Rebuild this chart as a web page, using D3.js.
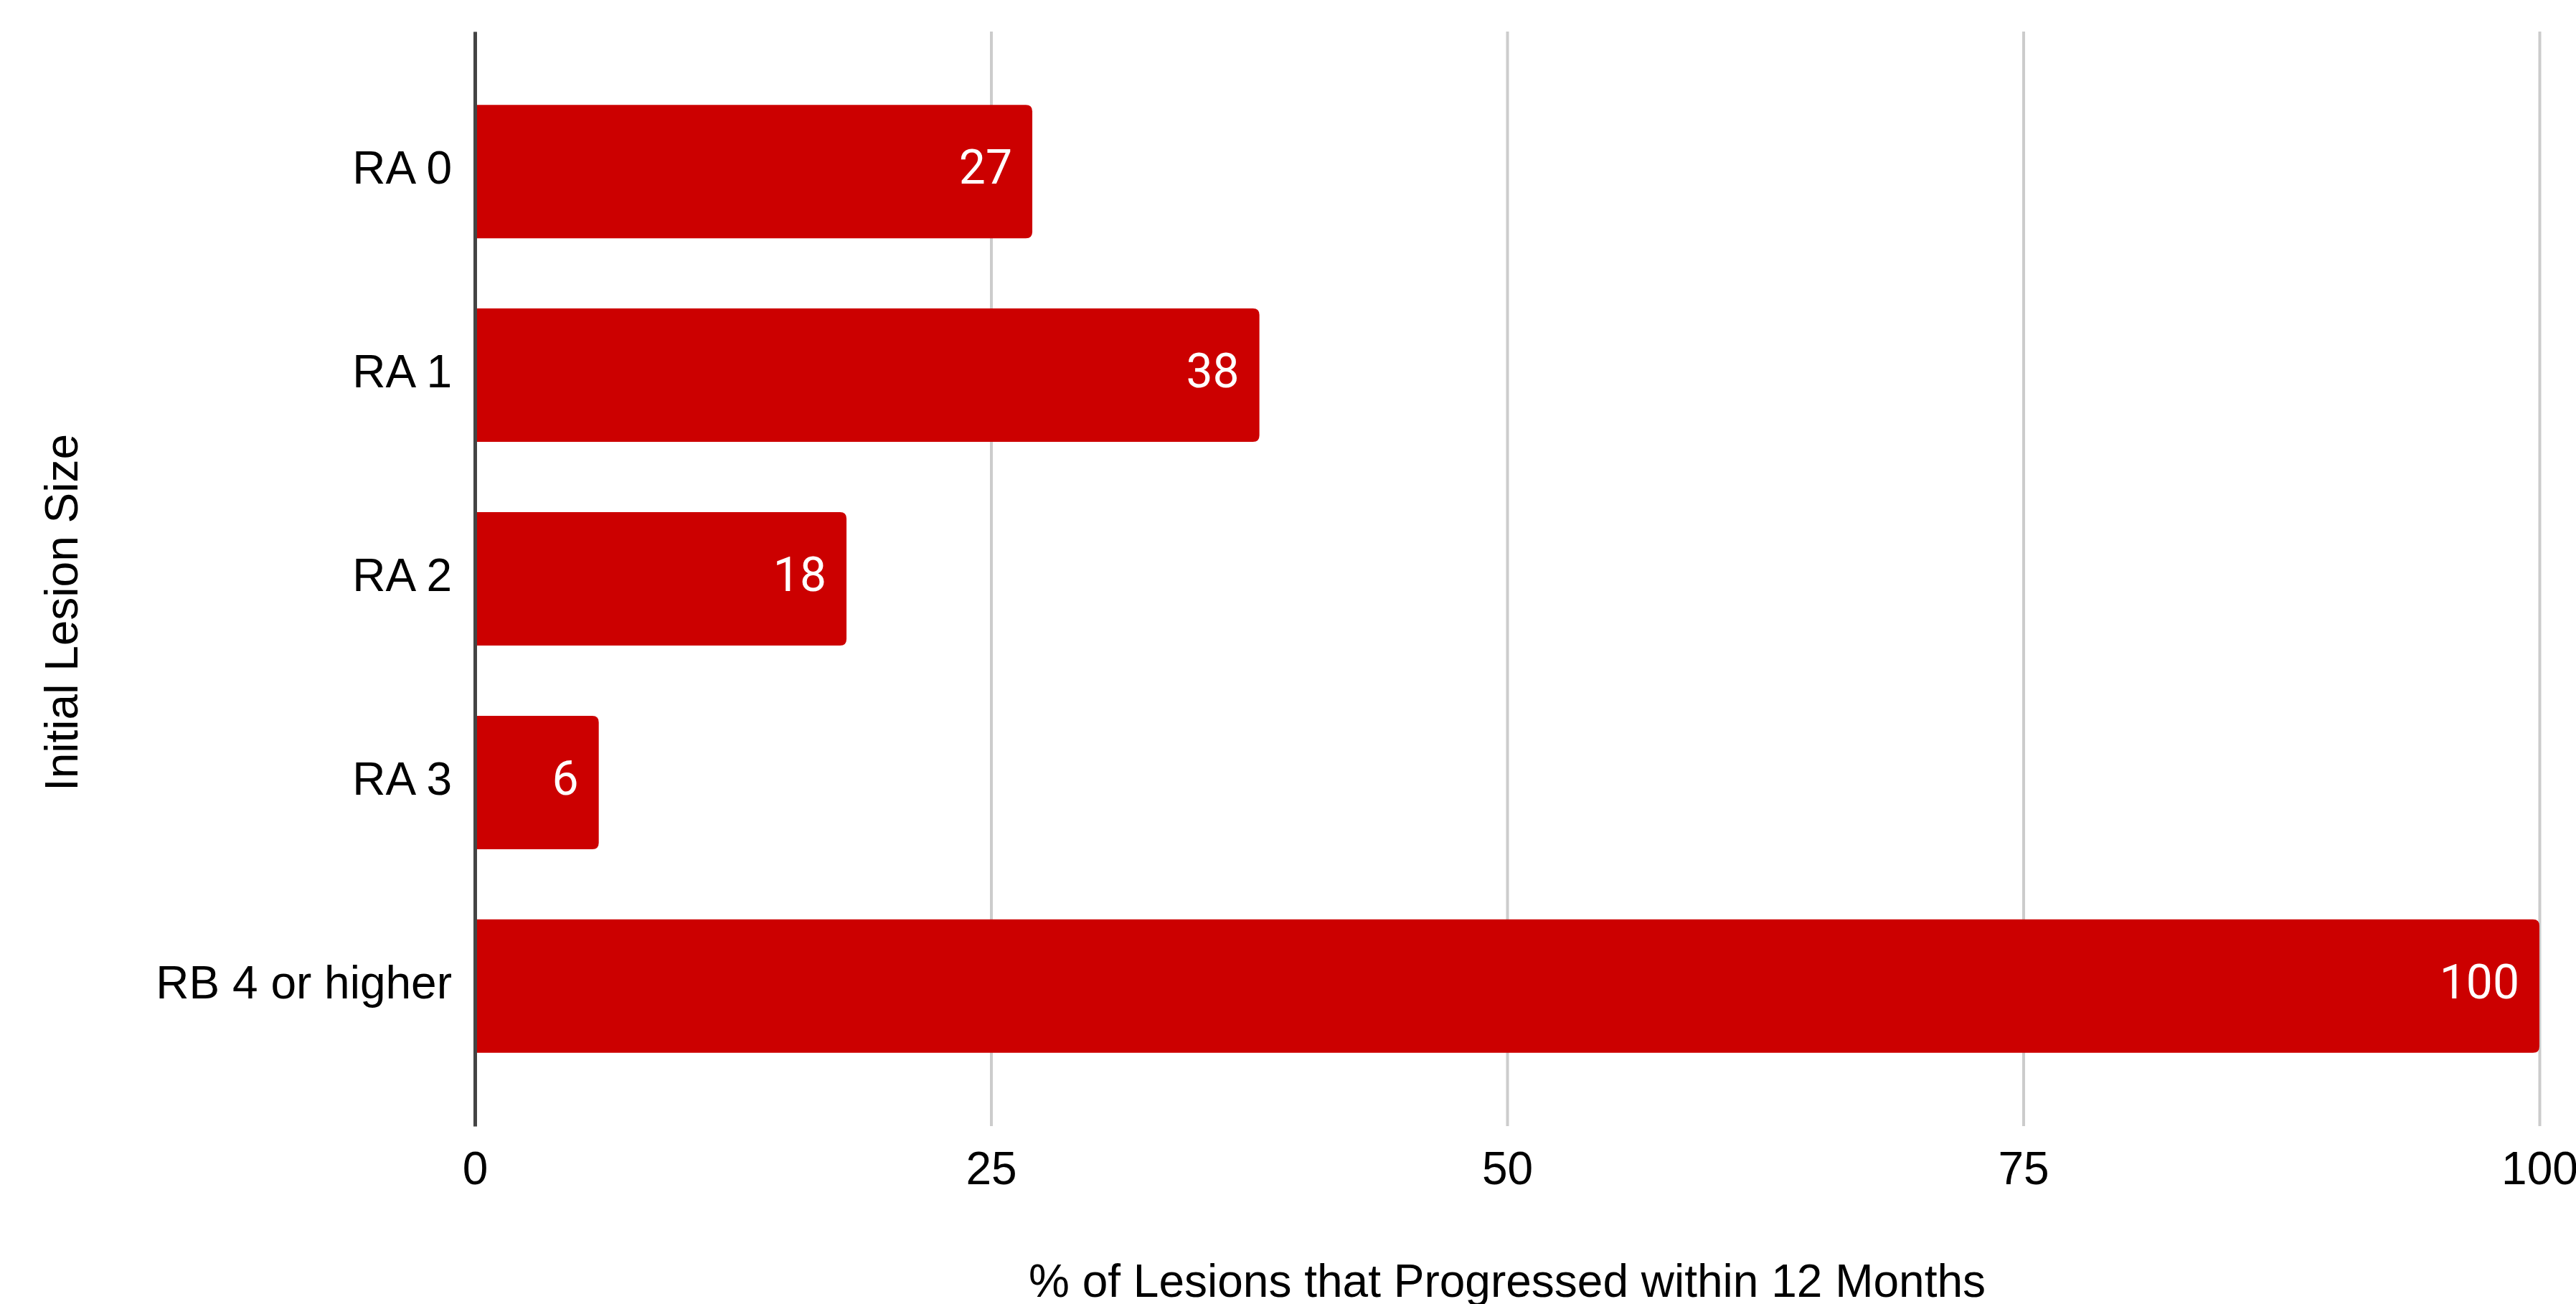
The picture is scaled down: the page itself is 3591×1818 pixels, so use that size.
<!DOCTYPE html>
<html lang="en">
<head>
<meta charset="utf-8">
<title>Lesion progression</title>
<script src="https://d3js.org/d3.v7.min.js"></script>
<style>
  body { margin: 0; background: #fff; }
  .axis text { font-family: "Liberation Sans", Arial, sans-serif; font-size: 64px; fill: #000; }
</style>
</head>
<body>
<script>
// data
var categories = ["RA 0", "RA 1", "RA 2", "RA 3", "RB 4 or higher"];
var progressed = [27, 38, 18, 6, 100];
var xTicks = [0, 25, 50, 75, 100];

var width = 3591, height = 1818;
// plot edges (don't use "top" - it's window.top)
var plotLeft = 662, plotRight = 3540, plotTop = 44, plotBottom = 1570;

var svg = d3.select("body").append("svg")
    .attr("width", width)
    .attr("height", height);

svg.append("rect").attr("width", width).attr("height", height).attr("fill", "#fff");

var x = d3.scaleLinear().domain([0, 100]).range([plotLeft, plotRight]);
var y = d3.scaleBand().domain(categories).range([plotTop, plotBottom])
    .paddingInner(0.345).paddingOuter(0.36);

// gridlines + tick labels
var xAxis = svg.append("g")
    .attr("class", "axis")
    .attr("transform", "translate(0," + plotBottom + ")")
    .call(d3.axisBottom(x).tickValues(xTicks).tickSize(-(plotBottom - plotTop)).tickPadding(36));
xAxis.select(".domain").remove();
xAxis.selectAll(".tick line").attr("stroke", "#cccccc").attr("stroke-width", 4);

// bars, right corners rounded
var r = 9;
function barPath(d, i) {
  var x0 = x(0), x1 = x(d), y0 = y(categories[i]), h = y.bandwidth();
  return "M" + x0 + "," + y0 + "H" + (x1 - r) + "Q" + x1 + "," + y0 + " " + x1 + "," + (y0 + r) +
    "V" + (y0 + h - r) + "Q" + x1 + "," + (y0 + h) + " " + (x1 - r) + "," + (y0 + h) + "H" + x0 + "Z";
}
svg.selectAll(".bar")
    .data(progressed)
    .enter().append("path")
    .attr("class", "bar")
    .attr("d", barPath)
    .attr("fill", "#cc0000");

svg.selectAll(".val")
    .data(progressed)
    .enter().append("text")
    .attr("class", "val")
    .attr("x", function(d) { return x(d) - 28; })
    .attr("y", function(d, i) { return y(categories[i]) + y.bandwidth() / 2; })
    .attr("dy", "0.26em")
    .attr("text-anchor", "end")
    .attr("font-family", "Roboto, sans-serif")
    .attr("font-size", "66px")
    .attr("fill", "#fff")
    .text(function(d) { return d; });

// y axis on top of bars
var yAxis = svg.append("g")
    .attr("class", "axis")
    .attr("transform", "translate(" + plotLeft + ",0)")
    .call(d3.axisLeft(y).tickSize(0).tickSizeOuter(0).tickPadding(32));
yAxis.select(".domain").attr("stroke", "#444").attr("stroke-width", 5);
yAxis.selectAll(".tick text").attr("dy", "0.27em");

// axis titles
svg.append("text")
    .attr("x", (plotLeft + plotRight) / 2)
    .attr("y", 1808)
    .attr("text-anchor", "middle")
    .attr("font-family", "Liberation Sans, Arial, sans-serif")
    .attr("font-size", "64px")
    .attr("fill", "#000")
    .text("% of Lesions that Progressed within 12 Months");

svg.append("text")
    .attr("transform", "translate(108,854) rotate(-90)")
    .attr("text-anchor", "middle")
    .attr("font-family", "Liberation Sans, Arial, sans-serif")
    .attr("font-size", "64px")
    .attr("fill", "#000")
    .text("Initial Lesion Size");
</script>
</body>
</html>
